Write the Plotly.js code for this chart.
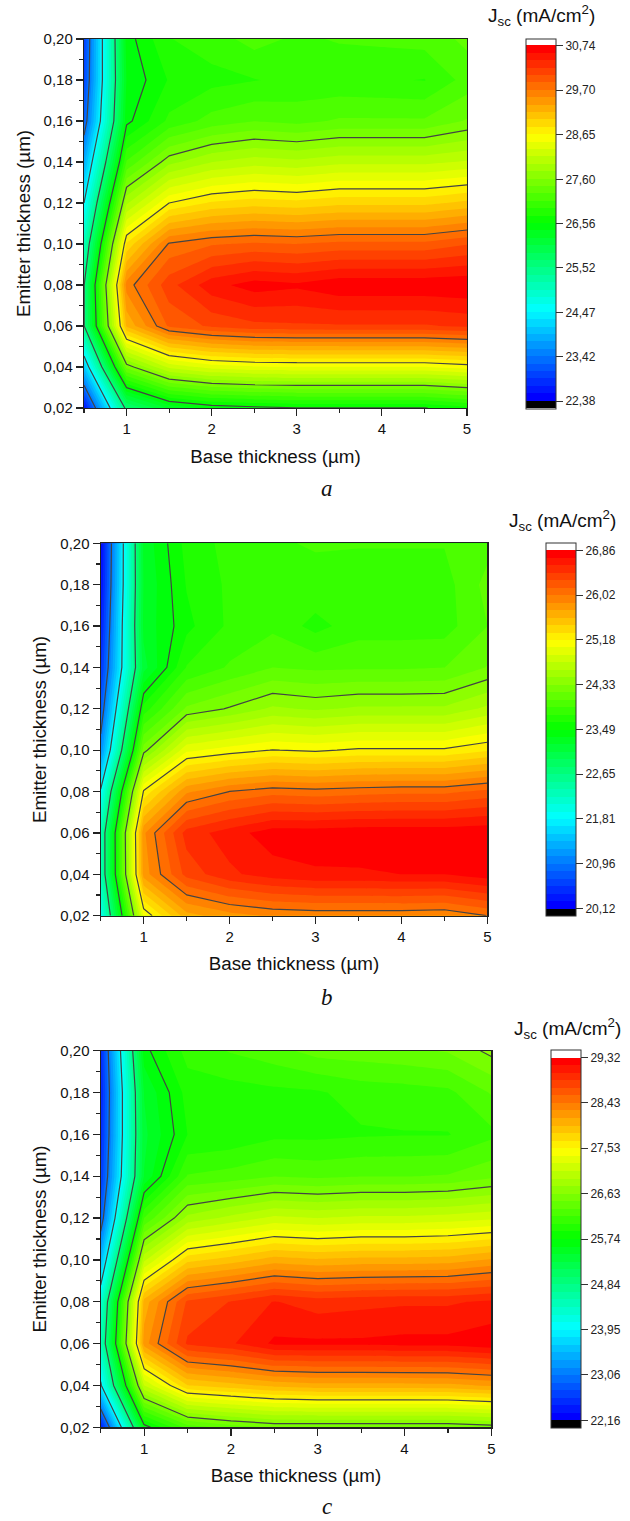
<!DOCTYPE html>
<html>
<head>
<meta charset="utf-8">
<script src="https://cdn.plot.ly/plotly-3.0.1.min.js"></script>
<style>html,body{margin:0;padding:0;background:#fff}</style>
</head>
<body>
<div id="chart" style="width:630px;height:1521px"></div>
<script>
// Grid shared by the three maps
var baseThickness = [0.5, 1, 1.5, 2, 2.5, 3, 3.5, 4, 4.5, 5];
var emitterThickness = [0.02, 0.04, 0.06, 0.08, 0.10, 0.12, 0.14, 0.16, 0.18, 0.20];

// Jsc values (mA/cm2), rows follow emitterThickness, columns follow baseThickness
var jscA = [
  [22.6, 25.64, 26.25, 26.44, 26.5, 26.55, 26.55, 26.55, 26.55, 26.68],
  [24.09, 27.49, 28.17, 28.38, 28.45, 28.47, 28.47, 28.47, 28.47, 28.55],
  [25.5, 29.2, 29.9, 30.08, 30.17, 30.19, 30.2, 30.2, 30.2, 30.25],
  [25.5, 29.6, 30.15, 30.5, 30.65, 30.6, 30.7, 30.7, 30.7, 30.72],
  [25.05, 28.85, 29.72, 29.85, 29.9, 29.87, 29.92, 29.92, 29.92, 30.03],
  [24.47, 27.92, 28.65, 28.85, 28.92, 28.88, 28.95, 28.95, 28.95, 29.05],
  [23.85, 27.1, 27.72, 27.95, 28.05, 28.0, 28.08, 28.08, 28.08, 28.15],
  [23.2, 26.5, 26.95, 27.15, 27.25, 27.2, 27.28, 27.28, 27.28, 27.45],
  [23.0, 26.4, 26.75, 26.85, 26.9, 26.95, 26.95, 26.93, 26.9, 27.15],
  [22.95, 26.47, 26.9, 27.0, 27.15, 27.05, 27.1, 27.12, 27.15, 27.3]
];
var jscB = [
  [21.95, 25.05, 25.68, 25.82, 25.9, 25.92, 25.92, 25.92, 25.9, 26.02],
  [22.3, 25.8, 26.35, 26.55, 26.65, 26.7, 26.7, 26.72, 26.72, 26.8],
  [22.3, 25.85, 26.5, 26.65, 26.8, 26.8, 26.82, 26.82, 26.82, 26.84],
  [21.85, 25.2, 25.85, 26.02, 26.1, 26.07, 26.1, 26.12, 26.12, 26.2],
  [21.1, 24.27, 25.0, 25.1, 25.18, 25.15, 25.2, 25.2, 25.2, 25.3],
  [20.75, 23.69, 24.22, 24.35, 24.5, 24.45, 24.5, 24.5, 24.5, 24.65],
  [20.5, 23.15, 23.78, 23.93, 24.05, 24.02, 24.03, 24.03, 24.05, 24.2],
  [20.35, 23.25, 23.59, 23.8, 23.88, 23.72, 23.85, 23.85, 23.85, 24.05],
  [20.25, 23.22, 23.64, 23.8, 23.85, 23.88, 23.85, 23.85, 23.85, 24.1],
  [20.2, 23.25, 23.68, 23.82, 23.9, 23.92, 23.92, 23.92, 23.92, 24.0]
];
var jscC = [
  [22.4, 25.65, 26.25, 26.4, 26.5, 26.5, 26.5, 26.5, 26.5, 26.55],
  [23.9, 27.08, 27.82, 27.92, 28.02, 28.07, 28.07, 28.07, 28.08, 28.15],
  [24.45, 28.2, 28.9, 29.0, 29.2, 29.2, 29.2, 29.22, 29.22, 29.28],
  [24.25, 28.04, 28.75, 28.88, 29.03, 28.95, 28.98, 29.0, 29.0, 29.05],
  [23.5, 27.05, 27.78, 27.9, 28.05, 28.0, 28.03, 28.03, 28.05, 28.15],
  [22.85, 26.19, 26.83, 26.98, 27.12, 27.08, 27.12, 27.12, 27.15, 27.2],
  [22.6, 25.45, 26.2, 26.25, 26.33, 26.3, 26.33, 26.33, 26.35, 26.45],
  [22.5, 25.4, 25.89, 25.92, 26.0, 26.0, 26.02, 26.03, 26.03, 26.15],
  [22.45, 25.45, 25.95, 25.97, 26.0, 26.02, 26.1, 26.12, 26.15, 26.35],
  [22.5, 25.68, 26.1, 26.2, 26.28, 26.4, 26.42, 26.45, 26.5, 26.68]
];

// Colour bar tick values and labels
var ticksA = [22.38, 23.42, 24.47, 25.52, 26.56, 27.60, 28.65, 29.70, 30.74];
var ticksB = [20.12, 20.96, 21.81, 22.65, 23.49, 24.33, 25.18, 26.02, 26.86];
var ticksC = [22.16, 23.06, 23.95, 24.84, 25.74, 26.63, 27.53, 28.43, 29.32];
var labelsA = ['22,38','23,42','24,47','25,52','26,56','27,60','28,65','29,70','30,74'];
var labelsB = ['20,12','20,96','21,81','22,65','23,49','24,33','25,18','26,02','26,86'];
var labelsC = ['22,16','23,06','23,95','24,84','25,74','26,63','27,53','28,43','29,32'];

var W = 630, H = 1521;
var FONT = '"Liberation Sans", Arial, sans-serif';
var DARK = '#222222';
var BANDS_PER_TICK = 6, TICK_STEPS = 8;
var totalBands = BANDS_PER_TICK * TICK_STEPS;

// Blue-cyan-green-yellow-red, with black and white caps for under/over range
function bandScale() {
  var n = totalBands + 1, lo = 1 / n, hi = totalBands / n;
  var hues = ['#0000ff', '#00ffff', '#00ff00', '#ffff00', '#ff0000'];
  var scale = [[0, '#000000'], [0.5 / n, '#000000'], [0.5 / n, hues[0]]];
  hues.forEach(function (c, k) { scale.push([lo + (hi - lo) * k / 4, c]); });
  scale.push([(totalBands + 0.5) / n, hues[4]]);
  scale.push([(totalBands + 0.5) / n, '#ffffff']);
  scale.push([1, '#ffffff']);
  return scale;
}

var panels = [
  {z: jscA, ticks: ticksA, labels: labelsA, x0: 84, x1: 467, y0: 39, y1: 408,
   bar: 526, tx: 541, ty: 15, tag: 'a', tagY: 489},
  {z: jscB, ticks: ticksB, labels: labelsB, x0: 100.7, x1: 487.3, y0: 543.3, y1: 915.7,
   bar: 546, tx: 562, ty: 520, tag: 'b', tagY: 997},
  {z: jscC, ticks: ticksC, labels: labelsC, x0: 100.7, x1: 491.3, y0: 1050.7, y1: 1427.3,
   bar: 551, tx: 567, ty: 1028, tag: 'c', tagY: 1506}
];

var data = [], annotations = [];
var layout = {
  width: W, height: H,
  margin: {l: 0, r: 0, t: 0, b: 0},
  paper_bgcolor: '#ffffff', plot_bgcolor: '#ffffff',
  showlegend: false,
  font: {family: FONT, color: '#111111', size: 15},
  separators: ',.',
  annotations: annotations
};

panels.forEach(function (p, idx) {
  var suffix = idx === 0 ? '' : String(idx + 1);
  var xa = 'x' + suffix, ya = 'y' + suffix;
  var lo = p.ticks[0], hi = p.ticks[p.ticks.length - 1];
  var band = (hi - lo) / totalBands, major = (hi - lo) / TICK_STEPS;

  data.push({
    type: 'contour', x: baseThickness, y: emitterThickness, z: p.z,
    xaxis: xa, yaxis: ya,
    autocontour: false, zauto: false, zmin: lo - band, zmax: hi + band,
    contours: {start: lo, end: hi, size: band, coloring: 'fill', showlines: false},
    line: {width: 0, smoothing: 0},
    colorscale: bandScale(),
    hoverinfo: 'skip',
    colorbar: {
      x: p.bar / W, xanchor: 'left', xref: 'paper',
      y: 1 - (p.y0 + p.y1) / 2 / H, yanchor: 'middle', yref: 'paper',
      lenmode: 'pixels', len: p.y1 - p.y0 + 1,
      thicknessmode: 'pixels', thickness: 30,
      xpad: 0, ypad: 0,
      outlinecolor: '#333333', outlinewidth: 1,
      borderwidth: 0,
      tickmode: 'array', tickvals: p.ticks, ticktext: p.labels,
      tickprefix: '\u00a0',
      ticks: 'outside', ticklen: 7, tickwidth: 1, tickcolor: '#333333',
      tickfont: {family: FONT, size: 12, color: '#222222'}
    }
  });
  data.push({
    type: 'contour', x: baseThickness, y: emitterThickness, z: p.z,
    xaxis: xa, yaxis: ya,
    autocontour: false, showscale: false,
    contours: {start: lo + major, end: hi - major, size: major, coloring: 'none'},
    line: {color: '#444444', width: 1.2, smoothing: 0},
    hoverinfo: 'skip'
  });

  layout['xaxis' + suffix] = {
    domain: [p.x0 / W, p.x1 / W], range: [0.5, 5], anchor: ya,
    showgrid: false, zeroline: false,
    showline: true, mirror: true, linecolor: DARK, linewidth: 1.2,
    tickmode: 'array', tickvals: [1, 2, 3, 4, 5],
    ticks: 'outside', ticklen: 7, tickwidth: 1.2, tickcolor: DARK,
    minor: {tickmode: 'array', tickvals: [0.5, 1.5, 2.5, 3.5, 4.5], ticks: 'outside', ticklen: 4, tickwidth: 1.2, tickcolor: DARK, showgrid: false},
    tickfont: {family: FONT, size: 15},
    title: {text: 'Base thickness (µm)', font: {family: FONT, size: 18.8}, standoff: 13},
    layer: 'above traces'
  };
  layout['yaxis' + suffix] = {
    domain: [1 - p.y1 / H, 1 - p.y0 / H], range: [0.02, 0.20], anchor: xa,
    showgrid: false, zeroline: false,
    showline: true, mirror: true, linecolor: DARK, linewidth: 1.2,
    tickmode: 'array', tickvals: emitterThickness, tickformat: '.2f',
    ticks: 'outside', ticklen: 7, tickwidth: 1.2, tickcolor: DARK,
    minor: {dtick: 0.01, ticks: 'outside', ticklen: 4, tickwidth: 1.2, tickcolor: DARK, showgrid: false},
    tickfont: {family: FONT, size: 15},
    title: {text: 'Emitter thickness (µm)', font: {family: FONT, size: 18.8}, standoff: 8},
    layer: 'above traces'
  };

  annotations.push({
    xref: 'paper', yref: 'paper', x: p.tx / W, y: 1 - p.ty / H,
    text: 'J<sub>sc</sub> (mA/cm<sup>2</sup>)', showarrow: false,
    xanchor: 'center', yanchor: 'middle', font: {family: FONT, size: 19, color: '#111111'}
  });
  annotations.push({
    xref: 'paper', yref: 'paper', x: 327 / W, y: 1 - p.tagY / H,
    text: '<i>' + p.tag + '</i>', showarrow: false,
    xanchor: 'center', yanchor: 'middle',
    font: {family: '"Liberation Serif", serif', size: 23, color: '#111111'}
  });
});

Plotly.newPlot('chart', data, layout, {displayModeBar: false, staticPlot: true});
</script>
</body>
</html>
